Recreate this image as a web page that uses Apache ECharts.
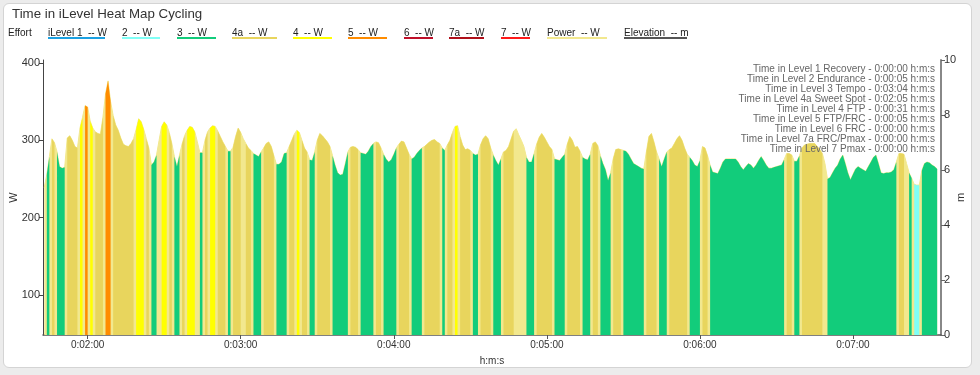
<!DOCTYPE html>
<html>
<head>
<meta charset="utf-8">
<script src="https://cdn.jsdelivr.net/npm/echarts@6/dist/echarts.min.js"></script>
<style>
  html, body { margin: 0; padding: 0; background: #ececec; }
  .card {
    position: absolute; left: 3px; top: 3px; width: 967px; height: 363px;
    background: #fff; border: 1px solid #d4d4d4; border-radius: 6px;
  }
  #chart { position: absolute; left: 0; top: 0; width: 980px; height: 375px; }
</style>
</head>
<body>
<div class="card"></div>
<div id="chart"></div>
<script>
// one sample per second, starting at 0:01:43
const startSec = 103

// power in W
const power = [
  239, 256, 279, 302, 297, 285, 266, 264, 265, 303, // 103
  306, 300, 292, 290, 316, 330, 345, 343, 325, 316, // 113
  311, 309, 308, 330, 360, 377, 350, 332, 320, 313, // 123
  303, 295, 293, 292, 296, 302, 314, 328, 324, 314, // 133
  302, 290, 268, 272, 281, 300, 318, 324, 320, 310, // 143
  296, 279, 266, 281, 295, 306, 313, 318, 317, 311, // 153
  298, 284, 284, 300, 311, 316, 319, 318, 312, 305, // 163
  298, 292, 286, 286, 291, 305, 316, 310, 302, 296, // 173
  290, 287, 283, 281, 279, 285, 290, 296, 298, 292, // 183
  280, 269, 269, 272, 283, 284, 292, 300, 308, 313, // 193
  310, 300, 290, 285, 275, 274, 285, 300, 309, 306, // 203
  302, 298, 292, 280, 268, 258, 255, 256, 270, 285, // 213
  291, 292, 291, 288, 284, 283, 282, 286, 292, 296, // 223
  298, 297, 290, 282, 276, 272, 275, 282, 290, 295, // 233
  299, 298, 290, 282, 276, 278, 283, 287, 290, 292, // 243
  295, 298, 300, 301, 298, 296, 290, 287, 294, 300, // 253
  310, 318, 319, 305, 294, 288, 289, 287, 283, 281, // 263
  282, 294, 302, 306, 302, 290, 281, 274, 268, 276, // 273
  285, 287, 292, 302, 312, 315, 307, 300, 292, 278, // 283
  272, 272, 283, 295, 304, 309, 304, 298, 292, 288, // 293
  276, 275, 274, 278, 282, 295, 305, 300, 291, 292, // 303
  286, 278, 276, 275, 282, 296, 298, 293, 280, 270, // 313
  262, 248, 258, 276, 288, 289, 288, 287, 286, 282, // 323
  276, 270, 268, 266, 264, 263, 285, 305, 309, 298, // 333
  285, 276, 266, 276, 285, 288, 290, 296, 302, 306, // 343
  300, 290, 282, 278, 274, 268, 266, 274, 292, 290, // 353
  280, 268, 259, 258, 257, 264, 272, 276, 276, 276, // 363
  276, 276, 272, 266, 262, 266, 270, 268, 264, 268, // 373
  274, 279, 274, 268, 264, 264, 265, 266, 267, 268, // 383
  275, 283, 283, 281, 273, 273, 280, 290, 294, 295, // 393
  296, 296, 296, 292, 288, 283, 270, 250, 252, 258, // 403
  264, 268, 276, 281, 270, 258, 249, 256, 263, 266, // 413
  264, 262, 260, 266, 272, 278, 281, 270, 258, 257, // 423
  258, 258, 259, 262, 272, 283, 283, 282, 270, 258, // 433
  251, 243, 242, 242, 261, 270, 272, 271, 268, 266, // 443
  263                                               // 453
]

// iLevel of every sample
const zones = [
  '4a', '3', '3', '4a', '4a', '3', '3', '3', '3', '4a', // 103
  '4a', '4a', '4a', '4a', '4', '4', '5', '5', '4', '4', // 113
  '4a', '4a', '4a', '4a', '5', '5', '5', '4a', '4a', '4a', // 123
  '4a', '4a', '4a', '4a', '4a', '4a', '4', '4', '4', '4', // 133
  '4a', '4a', '3', '3', '3', '4a', '4', '4', '4', '4a', // 143
  '4a', '3', '3', '3', '4a', '4a', '4', '4', '4', '4', // 153
  '4a', '3', '3', '4a', '4a', '4', '4', '4', '4a', '4a', // 163
  '4a', '4a', '3', '3', '4a', '4a', '4a', '4a', '4', '4a', // 173
  '4a', '4a', '3', '3', '3', '3', '4a', '4a', '4a', '4a', // 183
  '4a', '3', '3', '3', '3', '3', '4a', '4a', '4a', '4', // 193
  '4', '4a', '4a', '4a', '3', '3', '3', '4a', '4a', '4a', // 203
  '4a', '4a', '4a', '3', '3', '3', '3', '3', '3', '3', // 213
  '4a', '4a', '4a', '4a', '3', '3', '3', '3', '3', '3', // 223
  '4a', '4a', '4a', '3', '3', '3', '3', '3', '3', '4a', // 233
  '4a', '4a', '4a', '4a', '3', '3', '3', '3', '3', '4a', // 243
  '4a', '4a', '4a', '4a', '4a', '4a', '3', '3', '4a', '4a', // 253
  '4a', '4', '4', '4a', '4a', '4a', '4a', '4a', '3', '3', // 263
  '3', '4a', '4a', '4a', '4a', '4a', '3', '3', '3', '3', // 273
  '4a', '4a', '4a', '4a', '4a', '4', '4a', '4', '4a', '3', // 283
  '3', '3', '3', '4a', '4a', '4a', '4a', '4a', '4a', '4a', // 293
  '3', '3', '3', '3', '3', '4a', '4a', '4a', '4a', '4a', // 303
  '4a', '3', '3', '3', '3', '4a', '4a', '4a', '3', '3', // 313
  '3', '3', '3', '4a', '4a', '4a', '4a', '3', '3', '3', // 323
  '3', '3', '3', '3', '3', '3', '4a', '4a', '4a', '4a', // 333
  '4a', '3', '3', '3', '3', '4a', '4a', '4a', '4a', '4a', // 343
  '4a', '4a', '4a', '3', '3', '3', '3', '3', '4a', '4a', // 353
  '4a', '3', '3', '3', '3', '3', '3', '3', '3', '3', // 363
  '3', '3', '3', '3', '3', '3', '3', '3', '3', '3', // 373
  '3', '3', '3', '3', '3', '3', '3', '3', '3', '3', // 383
  '3', '4a', '4a', '4a', '3', '3', '3', '4a', '4a', '4a', // 393
  '4a', '4a', '4a', '4a', '4a', '4a', '4', '3', '3', '3', // 403
  '3', '3', '3', '3', '3', '3', '3', '3', '3', '3', // 413
  '3', '3', '3', '3', '3', '3', '3', '3', '3', '3', // 423
  '3', '3', '3', '3', '3', '4a', '4a', '4a', '4', '3', // 433
  '3', '2', '2', '2', '3', '3', '3', '3', '3', '3', // 443
  '3'                                                  // 453
]

// elevation in m (nothing recorded)
const elevation = []

const levelKeys = ['1', '2', '3', '4a', '4', '5', '6', '7a', '7']
const levelNames = ['iLevel 1  -- W', '2  -- W', '3  -- W', '4a  -- W', '4  -- W', '5  -- W', '6  -- W', '7a  -- W', '7  -- W']
const levelColors = ['#1ba1e2', '#80fff6', '#12cc7b', '#e8d55d', '#ffff00', '#ff8c00', '#c0102a', '#b0101a', '#ff1a1a']
const powerColor = '#f2e88e'
const elevColor = '#555555'

const timeTicks = [120, 180, 240, 300, 360, 420]
const wattTicks = [100, 200, 300, 400]

const summaryLines = [
  'Time in Level 1 Recovery - 0:00:00 h:m:s',
  'Time in Level 2 Endurance - 0:00:05 h:m:s',
  'Time in Level 3 Tempo - 0:03:04 h:m:s',
  'Time in Level 4a Sweet Spot - 0:02:05 h:m:s',
  'Time in Level 4 FTP - 0:00:31 h:m:s',
  'Time in Level 5 FTP/FRC - 0:00:05 h:m:s',
  'Time in Level 6 FRC - 0:00:00 h:m:s',
  'Time in Level 7a FRC/Pmax - 0:00:00 h:m:s',
  'Time in Level 7 Pmax - 0:00:00 h:m:s'
]

const FONT = '"Liberation Sans", Arial, sans-serif'

function hms (s) {
  const h = Math.floor(s / 3600)
  const m = Math.floor((s % 3600) / 60)
  const sec = Math.round(s % 60)
  return h + ':' + String(m).padStart(2, '0') + ':' + String(sec).padStart(2, '0')
}

// legend: text with a coloured underline
const legendSpans = [[48, 105], [122, 160], [177, 216], [232, 277], [293, 332], [348, 387], [404, 433], [449, 484], [501, 530]]
const legendItems = levelNames.map((name, i) => ({ name, color: levelColors[i], span: legendSpans[i] }))
legendItems.push({ name: 'Power  -- W', color: powerColor, span: [547, 607] })
legendItems.push({ name: 'Elevation  -- m', color: elevColor, span: [624, 687] })

const graphic = [
  {
    type: 'text', x: 12, y: 7.5,
    style: { text: 'Time in iLevel Heat Map Cycling', font: '13.3px ' + FONT, fill: '#333' }
  },
  {
    type: 'text', x: 8, y: 33.5,
    style: { text: 'Effort', font: '10px ' + FONT, fill: '#222', verticalAlign: 'middle' }
  },
  {
    type: 'text', x: 935, y: 64.5, z: 100,
    style: {
      text: summaryLines.join('\n'), font: '10px ' + FONT, fill: '#666',
      align: 'right', verticalAlign: 'top', lineHeight: 10
    }
  }
]
legendItems.forEach(item => {
  graphic.push({
    type: 'text', x: item.span[0], y: 33.5,
    style: { text: item.name, font: '10px ' + FONT, fill: '#222', verticalAlign: 'middle' }
  })
  graphic.push({
    type: 'rect', shape: { x: item.span[0], y: 37, width: item.span[1] - item.span[0], height: 2 },
    style: { fill: item.color }
  })
})

const powerData = power.map((p, i) => [startSec + i, p])

const series = [
  {
    name: 'Power',
    type: 'line',
    data: powerData,
    symbol: 'none',
    lineStyle: { color: powerColor, width: 1 },
    areaStyle: { color: powerColor, opacity: 1 },
    z: 2
  }
]
levelKeys.forEach((key, k) => {
  series.push({
    name: levelNames[k],
    type: 'line',
    data: power.map((p, i) => [startSec + i, zones[i] === key ? p : null]),
    connectNulls: false,
    symbol: 'none',
    lineStyle: { width: 0, color: levelColors[k] },
    areaStyle: { color: levelColors[k], opacity: 1 },
    z: 3
  })
})
series.push({
  name: 'Elevation',
  type: 'line',
  yAxisIndex: 1,
  data: elevation,
  symbol: 'none',
  lineStyle: { color: elevColor, width: 1 }
})

const chart = echarts.init(document.getElementById('chart'))
chart.setOption({
  animation: false,
  textStyle: { fontFamily: FONT },
  grid: { left: 43, right: 39, top: 60, bottom: 40, outerBoundsMode: 'none' },
  xAxis: {
    type: 'value',
    min: 102.5,
    max: 454.5,
    name: 'h:m:s',
    nameLocation: 'middle',
    nameGap: 21,
    nameMoveOverlap: false,
    nameTextStyle: { color: '#333', fontSize: 10 },
    axisLine: { lineStyle: { color: '#555', width: 1.5 } },
    axisTick: { customValues: timeTicks, length: 4, lineStyle: { color: '#555' } },
    axisLabel: { customValues: timeTicks, formatter: hms, color: '#333', fontSize: 10, margin: 5 },
    splitLine: { show: false }
  },
  yAxis: [
    {
      type: 'value',
      min: 48,
      max: 404,
      name: 'W',
      nameLocation: 'middle',
      nameGap: 24,
      nameMoveOverlap: false,
      nameTextStyle: { color: '#333', fontSize: 11 },
      axisLine: { show: true, lineStyle: { color: '#444', width: 1 } },
      axisTick: { show: true, customValues: wattTicks, length: 4, lineStyle: { color: '#444' } },
      axisLabel: { customValues: wattTicks, color: '#333', fontSize: 11, margin: 3 },
      splitLine: { show: false }
    },
    {
      type: 'value',
      min: 0,
      max: 10,
      interval: 2,
      position: 'right',
      name: 'm',
      nameLocation: 'middle',
      nameGap: 14,
      nameMoveOverlap: false,
      nameTextStyle: { color: '#333', fontSize: 11 },
      axisLine: { show: true, lineStyle: { color: '#888', width: 2 } },
      axisTick: { show: true, length: 4, lineStyle: { color: '#666' } },
      axisLabel: { color: '#333', fontSize: 11, margin: 3 },
      splitLine: { show: false }
    }
  ],
  graphic,
  series
})
</script>
</body>
</html>
